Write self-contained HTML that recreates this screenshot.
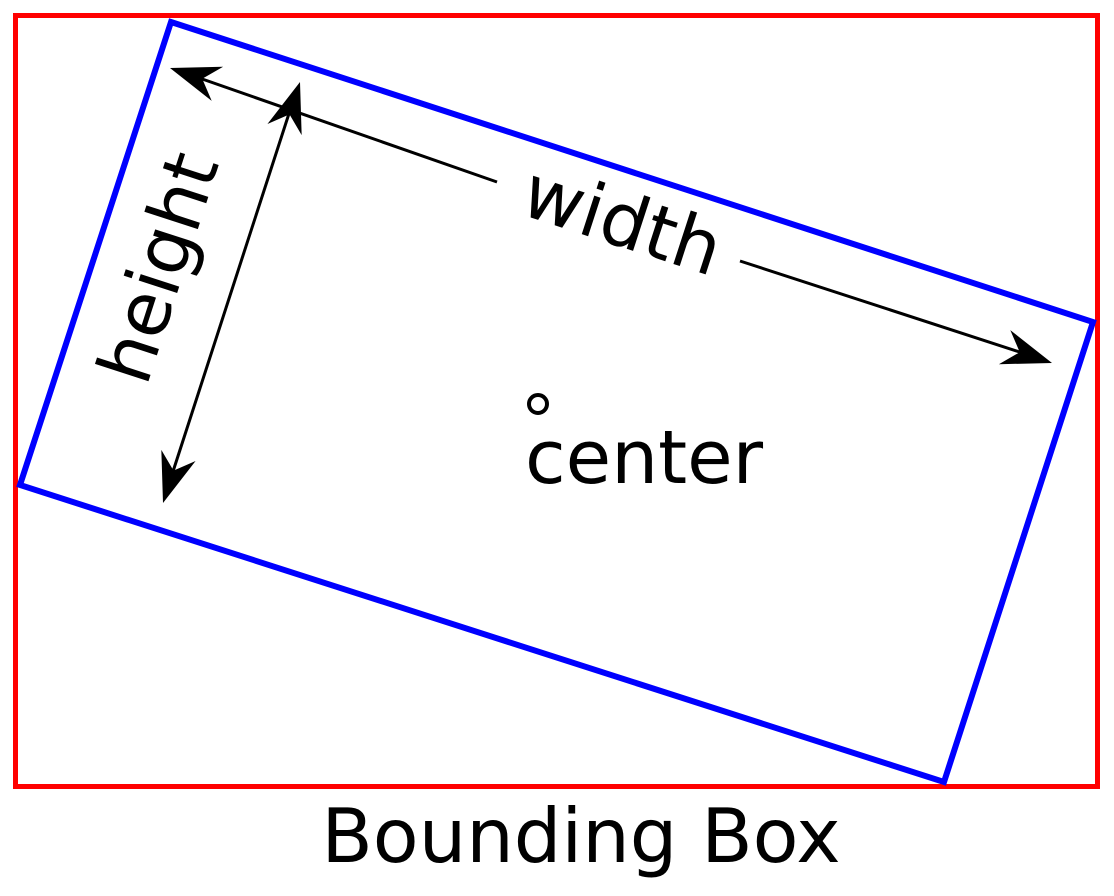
<!DOCTYPE html>
<html><head><meta charset="utf-8"><style>html,body{margin:0;padding:0;background:#fff}svg{display:block}</style></head>
<body>
<svg width="1114" height="896" viewBox="0 0 1114 896" xmlns="http://www.w3.org/2000/svg">
<defs>
<path id="ah" d="M0,0 L-50,-18 L-34,0 L-50,18 Z" fill="#000"/>
</defs>
<rect x="15.5" y="15.5" width="1082" height="771" fill="none" stroke="#ff0000" stroke-width="5"/>
<polygon points="171,22 1093,322 944,782 20,485" fill="none" stroke="#0000ff" stroke-width="6" stroke-linejoin="miter"/>
<line x1="185" y1="73" x2="497" y2="182" stroke="#000" stroke-width="3"/>
<line x1="740" y1="261" x2="1035" y2="357" stroke="#000" stroke-width="3"/>
<use href="#ah" transform="translate(170,68) rotate(198.5)"/>
<use href="#ah" transform="translate(1052,363) rotate(18.5)"/>
<line x1="295" y1="95" x2="167" y2="490" stroke="#000" stroke-width="3"/>
<use href="#ah" transform="translate(300,82) rotate(-72)"/>
<use href="#ah" transform="translate(163,503) rotate(108)"/>
<text x="622" y="246" font-family="DejaVu Sans, Liberation Sans, sans-serif" font-size="74" text-anchor="middle" transform="rotate(18 622 222)">width</text>
<text x="160" y="292" font-family="DejaVu Sans, Liberation Sans, sans-serif" font-size="74" text-anchor="middle" transform="rotate(-72 160 268)">height</text>
<circle cx="538" cy="404" r="9" fill="none" stroke="#000" stroke-width="4"/>
<text x="525" y="483" font-family="DejaVu Sans, Liberation Sans, sans-serif" font-size="74">center</text>
<text x="581" y="862" font-family="DejaVu Sans, Liberation Sans, sans-serif" font-size="75" text-anchor="middle">Bounding Box</text>
</svg>
</body></html>
